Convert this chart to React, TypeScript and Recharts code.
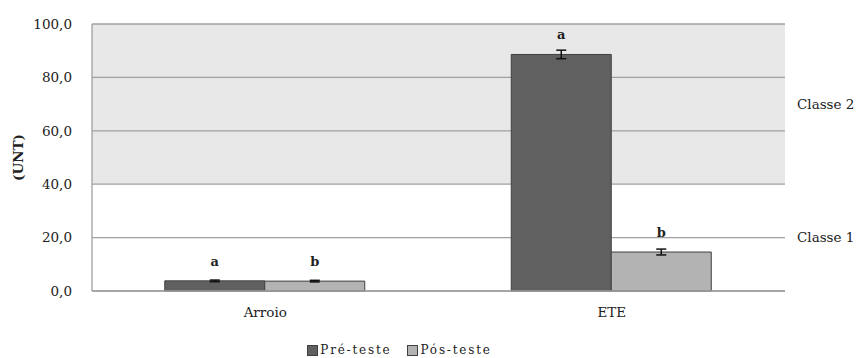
import React from "react";
import {
  BarChart,
  Bar,
  XAxis,
  YAxis,
  CartesianGrid,
  ReferenceLine,
  ErrorBar,
  LabelList,
  Legend,
} from "recharts";

const categories = ["Arroio", "ETE"];
const preTeste = [3.8, 88.6];
const posTeste = [3.7, 14.6];
const preErro = [0.3, 1.6];
const posErro = [0.3, 1.1];
const preLetras = ["a", "a"];
const posLetras = ["b", "b"];
const yTicks = [0, 20, 40, 60, 80, 100];

const data = categories.map((name, i) => ({
  name,
  pre: preTeste[i],
  pos: posTeste[i],
  preErr: preErro[i],
  posErr: posErro[i],
  preLetra: preLetras[i],
  posLetra: posLetras[i],
}));

const FONT = "'DejaVu Serif', serif";
const PRE_COLOR = "#606060";
const POS_COLOR = "#b3b3b3";
const GRID = "#a0a0a0";
const SHADE = "#e8e8e8";

const fmt = (v: number) => v.toFixed(1).replace(".", ",");

const LegendContent = () => (
  <div
    style={{
      display: "flex",
      justifyContent: "center",
      gap: 16,
      fontFamily: FONT,
      fontSize: 12,
      lineHeight: "16px",
      color: "#222",
      letterSpacing: 1.8,
      paddingLeft: 2,
    }}
  >
    {[
      { label: "Pré-teste", color: PRE_COLOR },
      { label: "Pós-teste", color: POS_COLOR },
    ].map((it) => (
      <div key={it.label} style={{ display: "flex", alignItems: "center", gap: 2 }}>
        <span
          style={{
            display: "inline-block",
            width: 9,
            height: 9,
            background: it.color,
            border: "1px solid #404040",
          }}
        />
        <span>{it.label}</span>
      </div>
    ))}
  </div>
);

export default function App() {
  return (
    <div style={{ position: "absolute", left: 0, top: 0, width: 856, height: 358, background: "#fff" }}>
      <BarChart
        width={856}
        height={358}
        data={data}
        margin={{ top: 24, right: 71, left: 12, bottom: 0 }}
        barCategoryGap="21%"
        barGap={0}
      >
        <CartesianGrid
          vertical={false}
          stroke={GRID}
          strokeWidth={1.3}
          horizontalFill={[SHADE, SHADE, SHADE, "#ffffff", "#ffffff", "#ffffff"]}
          fillOpacity={1}
        />
        <XAxis
          dataKey="name"
          axisLine={{ stroke: GRID, strokeWidth: 1.3 }}
          tickLine={false}
          height={51}
          tick={{ fontFamily: FONT, fontSize: 13.5, fill: "#222" }}
          tickMargin={10}
        />
        <YAxis
          domain={[0, 100]}
          ticks={yTicks}
          tickFormatter={fmt}
          width={80}
          axisLine={{ stroke: GRID, strokeWidth: 1.3 }}
          tickLine={false}
          tickMargin={14}
          tick={{ fontFamily: FONT, fontSize: 13.5, fill: "#222" }}
          label={{
            value: "(UNT)",
            angle: -90,
            position: "insideLeft",
            offset: 6,
            style: { fontFamily: FONT, fontSize: 13.5, fontWeight: "bold", fill: "#222", textAnchor: "middle" },
          }}
        />
        <ReferenceLine
          y={70}
          stroke="none"
          label={{ value: "Classe 2", position: "right", offset: 12, style: { fontFamily: FONT, fontSize: 13.5, fill: "#222" } }}
        />
        <ReferenceLine
          y={20}
          stroke="none"
          label={{ value: "Classe 1", position: "right", offset: 12, style: { fontFamily: FONT, fontSize: 13.5, fill: "#222" } }}
        />
        <Legend verticalAlign="bottom" height={16} content={<LegendContent />} />
        <Bar dataKey="pre" name="Pré-teste" fill={PRE_COLOR} stroke="#404040" strokeWidth={1} isAnimationActive={false}>
          <ErrorBar dataKey="preErr" width={5} stroke="#111" strokeWidth={1.5} />
          <LabelList
            dataKey="preLetra"
            position="top"
            offset={15}
            style={{ fontFamily: FONT, fontSize: 13, fontWeight: "bold", fill: "#222" }}
          />
        </Bar>
        <Bar dataKey="pos" name="Pós-teste" fill={POS_COLOR} stroke="#404040" strokeWidth={1} isAnimationActive={false}>
          <ErrorBar dataKey="posErr" width={5} stroke="#111" strokeWidth={1.5} />
          <LabelList
            dataKey="posLetra"
            position="top"
            offset={15}
            style={{ fontFamily: FONT, fontSize: 13, fontWeight: "bold", fill: "#222" }}
          />
        </Bar>
      </BarChart>
    </div>
  );
}
